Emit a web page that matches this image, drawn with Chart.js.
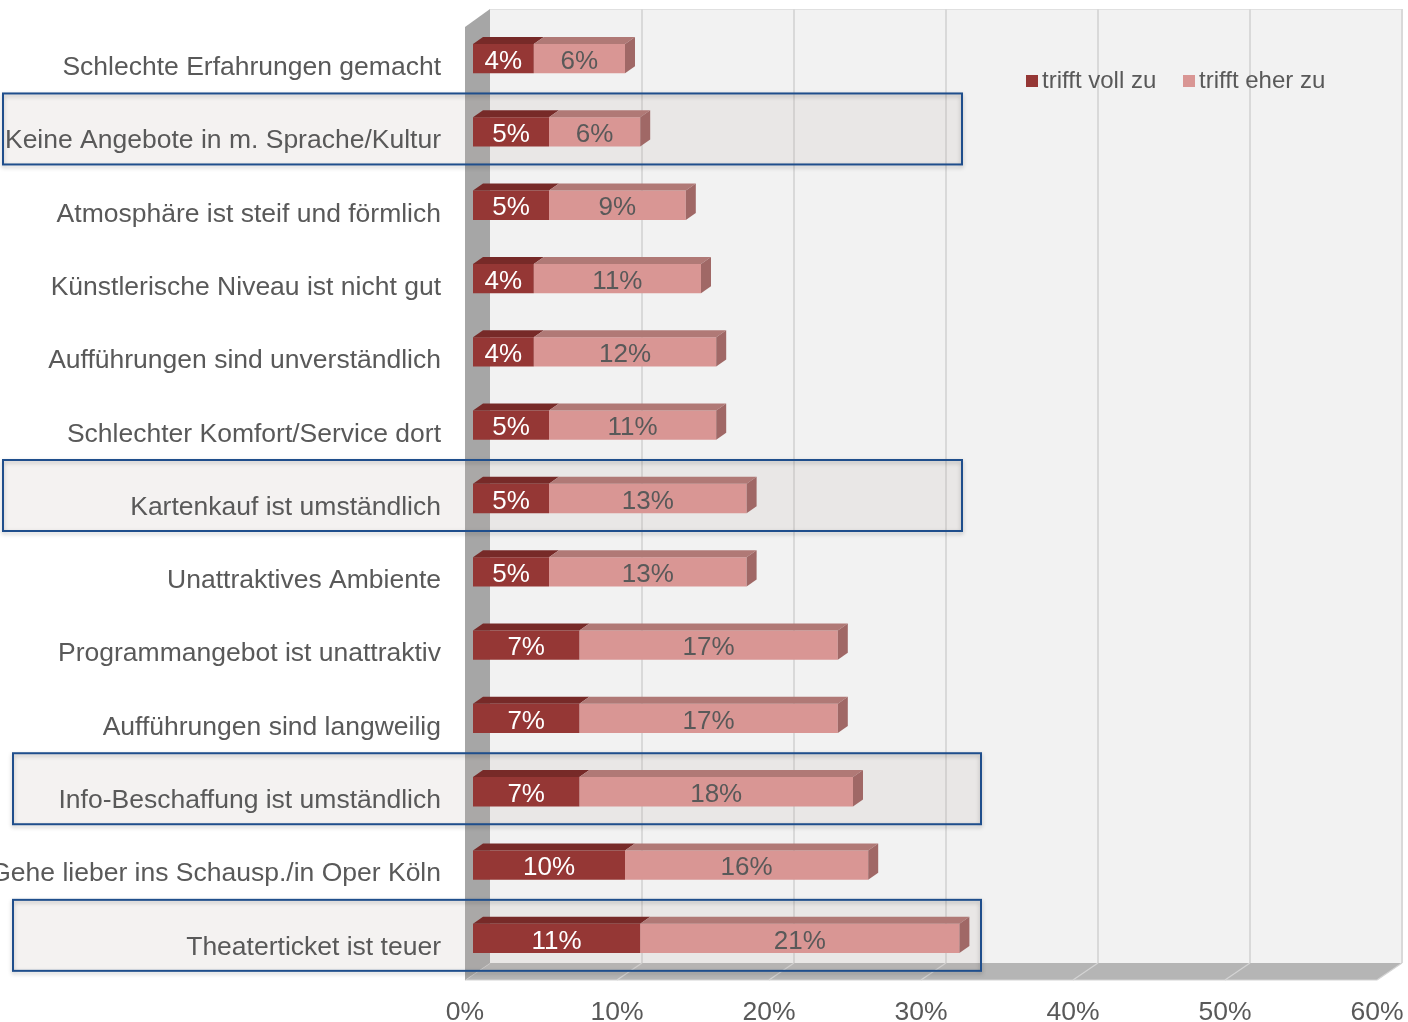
<!DOCTYPE html>
<html lang="de">
<head>
<meta charset="utf-8">
<title>Gründe gegen Theaterbesuch</title>
<script src="https://cdn.jsdelivr.net/npm/chart.js@4/dist/chart.umd.min.js"></script>
<style>
  html, body { margin: 0; padding: 0; background: #fff; }
  #wrap { width: 1408px; height: 1022px; position: relative; }
</style>
</head>
<body>
<div id="wrap"><canvas id="chart"></canvas></div>
<script>
const categories = [
    'Schlechte Erfahrungen gemacht',
    'Keine Angebote in m. Sprache/Kultur',
    'Atmosphäre ist steif und förmlich',
    'Künstlerische Niveau ist nicht gut',
    'Aufführungen sind unverständlich',
    'Schlechter Komfort/Service dort',
    'Kartenkauf ist umständlich',
    'Unattraktives Ambiente',
    'Programmangebot ist unattraktiv',
    'Aufführungen sind langweilig',
    'Info-Beschaffung ist umständlich',
    'Gehe lieber ins Schausp./in Oper Köln',
    'Theaterticket ist teuer'
];
const trifftVoll = [4, 5, 5, 4, 4, 5, 5, 5, 7, 7, 7, 10, 11];
const trifftEher = [6, 6, 9, 11, 12, 11, 13, 13, 17, 17, 18, 16, 21];
const seriesNames = ['trifft voll zu', 'trifft eher zu'];
const xTickValues = [0, 10, 20, 30, 40, 50, 60];

// rows framed with a blue box, and how far the box reaches to the left / right
const framedRows = [
    { row: 1, left: 3, right: 962 },
    { row: 6, left: 3, right: 962 },
    { row: 10, left: 13, right: 981 },
    { row: 12, left: 13, right: 981 }
];

const FONT = '"Liberation Sans", Arial, sans-serif';
const TEXT = '#595959';
const colors = {
    voll: { front: '#953735', top: '#772a28', side: '#6e2725' },
    eher: { front: '#d99694', top: '#b07976', side: '#a06866' }
};
// depth of the bars (pseudo 3D) and of the wall/floor
const BAR_DX = 10, BAR_DY = 7;
const WALL_BACK_DX = 17, WALL_FRONT_DX = -8, WALL_DY = 17;

function poly(ctx, pts, fill) {
    ctx.beginPath();
    ctx.moveTo(pts[0][0], pts[0][1]);
    for (let i = 1; i < pts.length; i++) ctx.lineTo(pts[i][0], pts[i][1]);
    ctx.closePath();
    ctx.fillStyle = fill;
    ctx.fill();
}

// keep the plot box exactly where the axes are fitted, no extra label padding
function fixSize(prop, size) {
    return function (scale) {
        scale[prop] = size;
        scale.paddingLeft = scale.paddingRight = scale.paddingTop = scale.paddingBottom = 0;
    };
}

const wallsPlugin = {
    id: 'walls',
    beforeDraw(chart) {
        const ctx = chart.ctx;
        const xs = chart.scales.x;
        const ys = chart.scales.y;
        const ca = chart.chartArea;
        const floorFront = ca.bottom + 5;
        const floorBack = floorFront - WALL_DY;
        const wallTop = 9;
        const x0 = xs.getPixelForValue(0);
        const xEnd = xs.getPixelForValue(60);

        ctx.save();
        // back wall
        ctx.fillStyle = '#f2f2f2';
        ctx.fillRect(x0 + WALL_BACK_DX, wallTop, xEnd - x0, floorBack - wallTop);
        ctx.strokeStyle = '#e0e0e0';
        ctx.lineWidth = 1;
        ctx.beginPath();
        ctx.moveTo(x0 + WALL_BACK_DX, wallTop + 0.5);
        ctx.lineTo(xEnd + WALL_BACK_DX, wallTop + 0.5);
        ctx.stroke();
        // gridlines on the back wall
        ctx.strokeStyle = '#d9d9d9';
        ctx.lineWidth = 2;
        xTickValues.forEach(v => {
            if (v === 0) return;
            const px = xs.getPixelForValue(v) + WALL_BACK_DX;
            ctx.beginPath();
            ctx.moveTo(px, wallTop);
            ctx.lineTo(px, floorBack);
            ctx.stroke();
        });
        // floor
        poly(ctx, [
            [x0 + WALL_FRONT_DX, floorFront],
            [x0 + WALL_BACK_DX, floorBack],
            [xEnd + WALL_BACK_DX, floorBack],
            [xEnd + WALL_FRONT_DX, floorFront]
        ], '#b5b5b5');
        ctx.strokeStyle = '#d4d4d4';
        ctx.lineWidth = 1.2;
        xTickValues.forEach(v => {
            const px = xs.getPixelForValue(v);
            ctx.beginPath();
            ctx.moveTo(px + WALL_BACK_DX, floorBack);
            ctx.lineTo(px + WALL_FRONT_DX, floorFront);
            ctx.stroke();
        });
        ctx.beginPath();
        ctx.moveTo(x0 + WALL_FRONT_DX, floorFront);
        ctx.lineTo(xEnd + WALL_FRONT_DX, floorFront);
        ctx.stroke();
        // left wall
        poly(ctx, [
            [x0 + WALL_FRONT_DX, wallTop + WALL_DY + 1],
            [x0 + WALL_BACK_DX, wallTop],
            [x0 + WALL_BACK_DX, floorBack],
            [x0 + WALL_FRONT_DX, floorFront]
        ], '#a6a6a6');

        // fill of the framed rows
        framedRows.forEach(f => {
            const cy = ys.getPixelForValue(f.row) - 3;
            ctx.fillStyle = 'rgba(190, 180, 170, 0.17)';
            ctx.fillRect(f.left, cy - 35.5, f.right - f.left, 71);
        });
        ctx.restore();
    },
    afterDatasetsDraw(chart) {
        const ctx = chart.ctx;
        const last = chart.data.datasets.length - 1;
        ctx.save();
        chart.data.datasets.forEach((ds, di) => {
            const meta = chart.getDatasetMeta(di);
            const c = di === 0 ? colors.voll : colors.eher;
            meta.data.forEach((el, i) => {
                const p = el.getProps(['x', 'y', 'base', 'height'], true);
                const top = p.y - p.height / 2;
                const bottom = p.y + p.height / 2;
                const l = Math.min(p.base, p.x), r = Math.max(p.base, p.x);
                poly(ctx, [[l, top], [l + BAR_DX, top - BAR_DY], [r + BAR_DX, top - BAR_DY], [r, top]], c.top);
                if (di === last) {
                    poly(ctx, [[r, top], [r + BAR_DX, top - BAR_DY], [r + BAR_DX, bottom - BAR_DY], [r, bottom]], c.side);
                }
                // value label on the front face
                ctx.font = '26px ' + FONT;
                ctx.textAlign = 'center';
                ctx.textBaseline = 'middle';
                ctx.fillStyle = di === 0 ? '#ffffff' : TEXT;
                ctx.fillText(ds.data[i] + '%', (l + r) / 2, p.y + 3);
            });
        });
        ctx.restore();
    },
    afterDraw(chart) {
        const ctx = chart.ctx;
        const ys = chart.scales.y;
        ctx.save();
        // frames
        framedRows.forEach(f => {
            const cy = ys.getPixelForValue(f.row) - 3;
            ctx.shadowColor = 'rgba(0,0,0,0.25)';
            ctx.shadowBlur = 4;
            ctx.shadowOffsetY = 2;
            ctx.strokeStyle = '#1f4e8c';
            ctx.lineWidth = 2;
            ctx.strokeRect(f.left, cy - 35.5, f.right - f.left, 71);
        });
        ctx.shadowColor = 'transparent';
        // legend
        ctx.font = '24px ' + FONT;
        ctx.textAlign = 'left';
        ctx.textBaseline = 'middle';
        const legendX = [1026, 1183];
        seriesNames.forEach((name, i) => {
            ctx.fillStyle = i === 0 ? colors.voll.front : colors.eher.front;
            ctx.fillRect(legendX[i], 75, 12, 12);
            ctx.fillStyle = TEXT;
            ctx.fillText(name, legendX[i] + 16, 81);
        });
        ctx.restore();
    }
};

new Chart(document.getElementById('chart'), {
    type: 'bar',
    data: {
        labels: categories,
        datasets: [{
            label: seriesNames[0],
            data: trifftVoll,
            backgroundColor: colors.voll.front,
            borderWidth: 0
        }, {
            label: seriesNames[1],
            data: trifftEher,
            backgroundColor: colors.eher.front,
            borderWidth: 0
        }]
    },
    options: {
        indexAxis: 'y',
        responsive: true,
        maintainAspectRatio: false,
        animation: false,
        barPercentage: 1,
        categoryPercentage: 0.4,
        layout: {
            padding: { top: 22, right: 23, left: 0, bottom: 0 }
        },
        plugins: {
            legend: { display: false },
            tooltip: { enabled: false }
        },
        scales: {
            x: {
                stacked: true,
                min: 0,
                max: 60,
                afterFit: fixSize('height', 47),
                afterBuildTicks: function (scale) {
                    scale.ticks = xTickValues.map(v => ({ value: v }));
                },
                grid: { display: false, drawTicks: false },
                border: { display: false },
                ticks: {
                    padding: 22,
                    labelOffset: -8,
                    color: TEXT,
                    font: { family: FONT, size: 26.5 },
                    callback: function (value) { return value + '%'; }
                }
            },
            y: {
                stacked: true,
                afterFit: fixSize('width', 473),
                grid: { display: false, drawTicks: false },
                border: { display: false },
                ticks: {
                    padding: 32,
                    labelOffset: 9,
                    color: TEXT,
                    font: { family: FONT, size: 26.5 }
                }
            }
        }
    },
    plugins: [wallsPlugin]
});
</script>
</body>
</html>
